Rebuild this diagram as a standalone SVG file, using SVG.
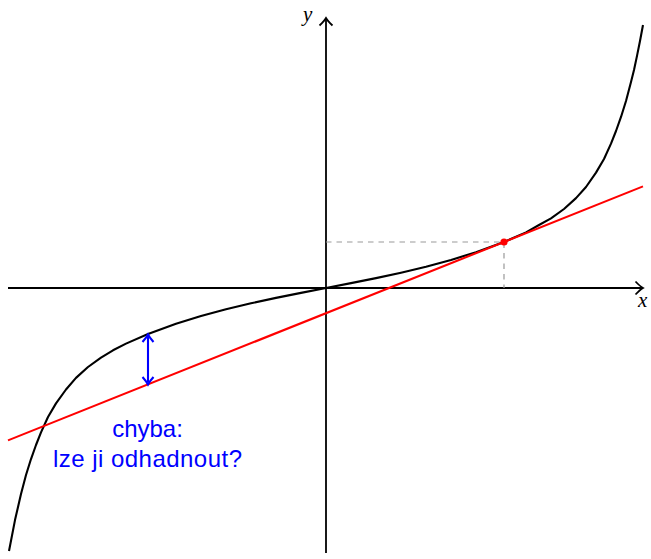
<svg xmlns="http://www.w3.org/2000/svg" width="651" height="559" viewBox="0 0 651 559">
<style>
.axis{stroke:#000;stroke-width:1.8;fill:none}
.curve{stroke:#000;stroke-width:2.1;fill:none;stroke-linejoin:round}
.tangent{stroke:#ff0000;stroke-width:2.1;fill:none}
.dash{stroke:#999;stroke-width:1.2;stroke-dasharray:5.5 5;fill:none}
.err{stroke:#0000ff;stroke-width:2.1;fill:none}
.lbl{font-family:"Liberation Serif",serif;font-style:italic;font-size:21px;fill:#000}
.note{font-family:"Liberation Sans","DejaVu Sans",sans-serif;font-size:24px;fill:#0000ff;text-anchor:middle}
</style>
<rect width="651" height="559" fill="#fff"/>
<g id="axes">
<path class="axis" d="M8,288 H642"/>
<path class="axis" d="M635.5,281.5 Q640,286.3 643,288 Q640,289.7 635.5,294.5"/>
<path class="axis" d="M326,553 V19"/>
<path class="axis" d="M319.5,25.5 Q324.3,21 326,18 Q327.7,21 332.5,25.5"/>
<text class="lbl" x="303" y="21">y</text>
<text class="lbl" x="638" y="307">x</text>
</g>
<g id="guides">
<path class="dash" d="M326,242 H504 V288"/>
</g>
<g id="function">
<path class="curve" d="M9,551 L15,520.1 L21,494 L26,475 L31,459.04 L36,445 L41,432.37 L48,417 L56,403.37 L66,389.5 L76,377.9 L88,367 L101,357.6 L113,350.3 L126,343.63 L148,334 L176,323.8 L201,316.08 L226,309.32 L251,303.33 L276,297.9 L301,292.86 L326,288 L351,283.14 L376,278.1 L401,272.67 L426,266.68 L451,259.92 L476,252.2 L504,242 L526,232.37 L539,225 L551,218.4 L564,209 L576,198.1 L586,187 L596,172.63 L604,159 L611,143.63 L616,131 L621,116.96 L626,101 L631,82 L634,70 L637,55.9 L640,41 L643,25"/>
</g>
<g id="tangent">
<path class="tangent" d="M8,440.4 L643,186.4"/>
<circle cx="504" cy="242" r="3.6" fill="#ff0000"/>
</g>
<g id="error">
<path class="err" d="M148,336 V382.5"/>
<path class="err" d="M142.5,342 Q146.5,337.5 148,334.5 Q149.5,337.5 153.5,342"/>
<path class="err" d="M142.5,377 Q146.5,381.5 148,384.5 Q149.5,381.5 153.5,377"/>
<text class="note" x="147.5" y="437">chyba:</text>
<text class="note" x="147.5" y="467" textLength="189" lengthAdjust="spacing">lze ji odhadnout?</text>
</g>
</svg>
